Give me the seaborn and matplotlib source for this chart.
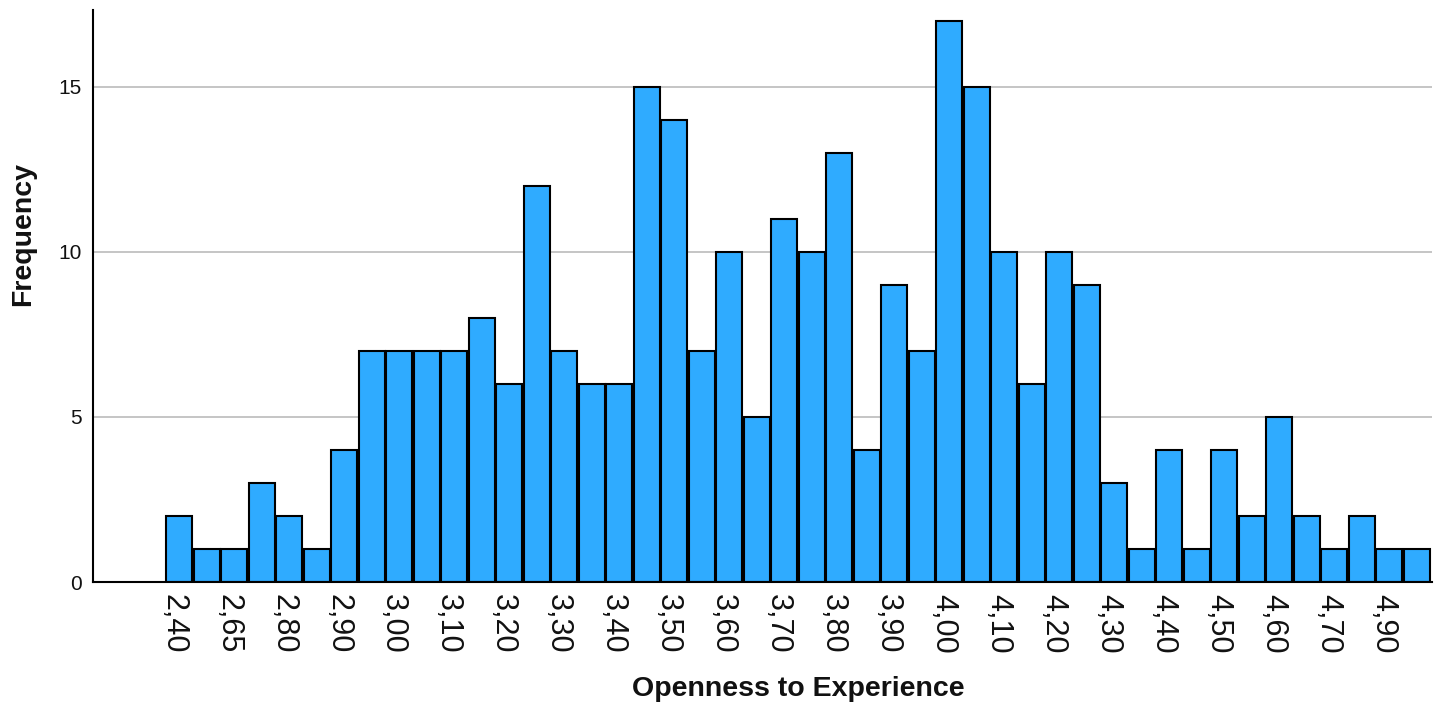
import matplotlib
matplotlib.use("Agg")
import matplotlib.pyplot as plt
import matplotlib.transforms as mtransforms
import seaborn as sns
import pandas as pd

# Data
categories = ["2,40", "2,50", "2,65", "2,75", "2,80", "2,85", "2,90", "2,95",
              "3,00", "3,05", "3,10", "3,15", "3,20", "3,25", "3,30", "3,35",
              "3,40", "3,45", "3,50", "3,55", "3,60", "3,65", "3,70", "3,75",
              "3,80", "3,85", "3,90", "3,95", "4,00", "4,05", "4,10", "4,15",
              "4,20", "4,25", "4,30", "4,35", "4,40", "4,45", "4,50", "4,55",
              "4,60", "4,65", "4,70", "4,80", "4,90", "5,00"]
frequencies = [2, 1, 1, 3, 2, 1, 4, 7, 7, 7, 7, 8, 6, 12, 7, 6,
               6, 15, 14, 7, 10, 5, 11, 10, 13, 4, 9, 7, 17, 15, 10, 6,
               10, 9, 3, 1, 4, 1, 4, 2, 5, 2, 1, 2, 1, 1]
y_ticks = [0, 5, 10, 15]
x_label = "Openness to Experience"
y_label = "Frequency"

df = pd.DataFrame({"value": categories, "count": frequencies})

sns.set_theme(style="white")
plt.rcParams["font.family"] = ["Liberation Sans", "DejaVu Sans"]

W, H = 1445, 708
fig = plt.figure(figsize=(W / 100, H / 100), dpi=100)
ax_left, ax_right, ax_top, ax_bottom = 93, 1432, 10, 582
ax = fig.add_axes([ax_left / W, 1 - ax_bottom / H,
                   (ax_right - ax_left) / W, (ax_bottom - ax_top) / H])

sns.barplot(data=df, x="value", y="count", order=categories,
            color="#2FABFF", saturation=1, width=0.95,
            edgecolor="black", linewidth=1.5, ax=ax)

ax.set_xlim(-3.13, 45.56)
ax.set_ylim(0, 17.33)

ax.set_yticks(y_ticks)
ax.set_yticklabels([str(t) for t in y_ticks], fontsize=15, color="#111111")
ax.tick_params(axis="y", length=0, pad=8)

idx = list(range(len(categories)))
ax.set_xticks(idx[::2])
ax.set_xticklabels(categories[::2], rotation=-90, ha="center", va="top",
                   fontsize=22, family=["Liberation Sans Narrow", "Liberation Sans"],
                   color="#111111")
ax.tick_params(axis="x", length=0, pad=9)
shift = mtransforms.ScaledTranslation(-6 / 100, 0, fig.dpi_scale_trans)
for lab in ax.get_xticklabels():
    lab.set_transform(lab.get_transform() + shift)

ax.yaxis.grid(True, color="#C0C0C0", linewidth=1.3)
ax.xaxis.grid(False)
ax.set_axisbelow(True)

for s in ["top", "right"]:
    ax.spines[s].set_visible(False)
for s in ["left", "bottom"]:
    ax.spines[s].set_color("black")
    ax.spines[s].set_linewidth(1.5)

ax.set_xlabel(x_label, fontsize=20.5, fontweight="bold", ha="center", va="center",
              color="#111111")
ax.set_ylabel(y_label, fontsize=20.5, fontweight="bold", ha="center", va="center",
              color="#111111")
ax.xaxis.set_label_coords((798 - ax_left) / (ax_right - ax_left),
                          (ax_bottom - 689) / (ax_bottom - ax_top))
ax.yaxis.set_label_coords((23 - ax_left) / (ax_right - ax_left),
                          (ax_bottom - 234) / (ax_bottom - ax_top))

fig.savefig("out.png", dpi=100, facecolor="white")
